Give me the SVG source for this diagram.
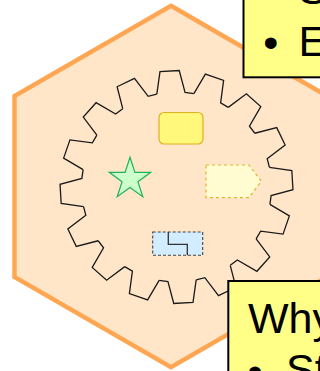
<svg xmlns="http://www.w3.org/2000/svg" xmlns:xlink="http://www.w3.org/1999/xlink" width="320" height="371" viewBox="0 0 320 371">
  <style>
    .gear { fill: none; stroke: #1a1a1a; stroke-width: 1.3; stroke-linejoin: miter; }
    .callout { fill: #ffff88; stroke: #000; stroke-width: 2; }
    .big { font-family: "Liberation Sans", Arial, sans-serif; font-size: 43px; fill: #000; }
  </style>
  <defs>
    <polyline id="tooth" class="gear" points="93.94,-14.14 116.10,-9.65 116.10,9.65 93.94,14.14 92.20,22.89"/>
  </defs>

  <g id="hexagon">
    <polygon points="171,5.8 327.5,96.15 327.5,276.85 171,367.2 14.5,276.85 14.5,96.15" fill="#ffe6c9" stroke="#ffa652" stroke-width="4.5" stroke-linejoin="miter"/>
  </g>

  <g id="gear" transform="translate(176.5,187)">
    <use xlink:href="#tooth" transform="rotate(-3.4)"/>
    <use xlink:href="#tooth" transform="rotate(19.1)"/>
    <use xlink:href="#tooth" transform="rotate(41.6)"/>
    <use xlink:href="#tooth" transform="rotate(64.1)"/>
    <use xlink:href="#tooth" transform="rotate(86.6)"/>
    <use xlink:href="#tooth" transform="rotate(109.1)"/>
    <use xlink:href="#tooth" transform="rotate(131.6)"/>
    <use xlink:href="#tooth" transform="rotate(154.1)"/>
    <use xlink:href="#tooth" transform="rotate(176.6)"/>
    <use xlink:href="#tooth" transform="rotate(199.1)"/>
    <use xlink:href="#tooth" transform="rotate(221.6)"/>
    <use xlink:href="#tooth" transform="rotate(244.1)"/>
    <use xlink:href="#tooth" transform="rotate(266.6)"/>
    <use xlink:href="#tooth" transform="rotate(289.1)"/>
    <use xlink:href="#tooth" transform="rotate(311.6)"/>
    <use xlink:href="#tooth" transform="rotate(334.1)"/>
  </g>

  <g id="yellow-box">
    <rect x="159" y="112.5" width="44" height="31.5" rx="5" ry="5" fill="#fff87a" stroke="#e0b020" stroke-width="1.2"/>
  </g>

  <g id="star">
    <polygon points="130,157.3 134.90,172.36 150.73,172.36 137.92,181.67 142.81,196.74 130,187.43 117.19,196.74 122.08,181.67 109.27,172.36 125.10,172.36" fill="#ccffcc" stroke="#1fb25a" stroke-width="1.2" stroke-linejoin="miter"/>
  </g>

  <g id="pentagon-arrow">
    <polygon points="206,165 249,165 261.3,181.3 249,197.7 206,197.7" fill="#fffcd2" stroke="#e2b52c" stroke-width="1.2" stroke-dasharray="3,3"/>
  </g>

  <g id="blue-box">
    <rect x="152.7" y="232" width="50" height="23.3" fill="#d2edff" stroke="#444" stroke-width="1.1" stroke-dasharray="3,2"/>
    <polyline points="168.3,232 168.3,244.3 187.3,244.3 187.3,255.3" fill="none" stroke="#333" stroke-width="1.3"/>
  </g>

  <g id="callout-top">
    <rect class="callout" x="243.5" y="-12" width="100" height="89.3"/>
    <text class="big" x="298.5" y="4">S</text>
    <text class="big" x="270.7" y="56.5" text-anchor="middle">•</text>
    <text class="big" x="298.5" y="56">E</text>
  </g>

  <g id="callout-bottom">
    <rect class="callout" x="228.3" y="281" width="100" height="100"/>
    <text class="big" x="248" y="333">Why</text>
    <text class="big" x="255" y="386" text-anchor="middle">•</text>
    <text class="big" x="286" y="384">St</text>
  </g>

  <g id="connectors"/>
</svg>
